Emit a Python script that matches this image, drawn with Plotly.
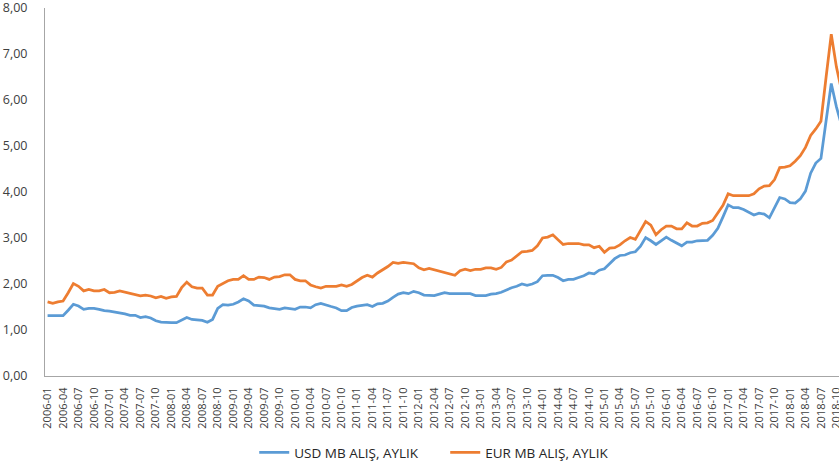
import plotly.graph_objects as go

# Monthly categories 2006-01 .. 2018-11
months = [f"{y}-{m:02d}" for y in range(2006, 2019) for m in range(1, 13)][:155]

usd = [
    1.31, 1.31, 1.31, 1.31, 1.43, 1.56, 1.52, 1.45, 1.47, 1.47, 1.45, 1.42,
    1.41, 1.39, 1.38, 1.35, 1.32, 1.32, 1.27, 1.29, 1.26, 1.20, 1.17, 1.16,
    1.16, 1.16, 1.21, 1.27, 1.23, 1.22, 1.21, 1.17, 1.23, 1.47, 1.55, 1.54,
    1.56, 1.61, 1.68, 1.63, 1.54, 1.53, 1.52, 1.48, 1.47, 1.45, 1.48, 1.47,
    1.45, 1.50, 1.50, 1.48, 1.55, 1.58, 1.54, 1.51, 1.48, 1.42, 1.42, 1.49,
    1.52, 1.54, 1.55, 1.51, 1.57, 1.58, 1.63, 1.71, 1.78, 1.81, 1.79, 1.84,
    1.81, 1.76, 1.75, 1.75, 1.78, 1.81, 1.79, 1.79, 1.79, 1.79, 1.79, 1.75,
    1.75, 1.75, 1.78, 1.79, 1.82, 1.87, 1.92, 1.95, 2.00, 1.97, 2.00, 2.05,
    2.18, 2.19, 2.19, 2.14, 2.07, 2.10, 2.10, 2.14, 2.18, 2.24, 2.22, 2.30,
    2.33, 2.44, 2.55, 2.62, 2.63, 2.68, 2.70, 2.82, 3.01, 2.94, 2.86, 2.94,
    3.02, 2.95, 2.89, 2.83, 2.91, 2.91, 2.94, 2.95, 2.95, 3.06, 3.21, 3.46,
    3.72, 3.66, 3.66, 3.62, 3.56, 3.50, 3.54, 3.52, 3.44, 3.67, 3.88, 3.85,
    3.77, 3.76, 3.85, 4.02, 4.41, 4.63, 4.73, 5.55, 6.36, 5.85, 5.45,
]

eur = [
    1.61, 1.58, 1.61, 1.63, 1.81, 2.01, 1.95, 1.85, 1.88, 1.85, 1.85, 1.88,
    1.81, 1.82, 1.85, 1.82, 1.79, 1.76, 1.74, 1.76, 1.74, 1.70, 1.73, 1.69,
    1.72, 1.73, 1.92, 2.04, 1.94, 1.91, 1.91, 1.76, 1.76, 1.95, 2.01, 2.07,
    2.10, 2.10, 2.18, 2.10, 2.10, 2.15, 2.14, 2.10, 2.15, 2.16, 2.20, 2.20,
    2.10, 2.07, 2.07, 1.98, 1.94, 1.91, 1.95, 1.95, 1.95, 1.98, 1.95, 1.99,
    2.07, 2.14, 2.19, 2.15, 2.24, 2.31, 2.38, 2.47, 2.45, 2.47, 2.45, 2.44,
    2.35, 2.31, 2.34, 2.31, 2.27, 2.24, 2.21, 2.19, 2.29, 2.32, 2.29, 2.32,
    2.32, 2.35, 2.35, 2.32, 2.36, 2.48, 2.52, 2.61, 2.70, 2.71, 2.73, 2.83,
    3.00, 3.02, 3.07, 2.96, 2.86, 2.88, 2.88, 2.88, 2.85, 2.85, 2.79, 2.82,
    2.69, 2.78, 2.79, 2.85, 2.94, 3.01, 2.97, 3.17, 3.36, 3.28, 3.07, 3.18,
    3.26, 3.26, 3.20, 3.20, 3.33, 3.26, 3.26, 3.32, 3.33, 3.38, 3.56, 3.71,
    3.96, 3.92, 3.92, 3.92, 3.92, 3.96, 4.07, 4.13, 4.14, 4.27, 4.53, 4.54,
    4.57, 4.67, 4.79, 4.97, 5.23, 5.37, 5.54, 6.50, 7.43, 6.72, 6.20,
]

tick_labels = months[:154:3]
y_ticks = [0, 1, 2, 3, 4, 5, 6, 7, 8]

series_names = ["USD MB ALIŞ, AYLIK", "EUR MB ALIŞ, AYLIK"]
colors = ["#5B9BD5", "#ED7D31"]

fig = go.Figure()
for name, vals, c in zip(series_names, [usd, eur], colors):
    fig.add_trace(go.Scatter(
        x=months[:len(vals)], y=vals, mode="lines", name=name,
        line=dict(color=c, width=2.75),
    ))

fig.update_layout(
    width=839, height=466,
    margin=dict(l=45, r=0, t=8, b=90, autoexpand=False),
    paper_bgcolor="white", plot_bgcolor="white",
    separators=",.",
    font=dict(family="Open Sans", size=12, color="#404040"),
    showlegend=True,
    legend=dict(orientation="h", x=0.2635, xanchor="left", y=-0.166, yanchor="top",
                font=dict(size=13.5, color="#262626"), itemwidth=30,
                entrywidth=146, entrywidthmode="pixels"),
)
fig.update_xaxes(
    type="category", categoryorder="array", categoryarray=months,
    range=[-0.5, 153.5], automargin=False,
    tickmode="array", tickvals=tick_labels, ticktext=tick_labels,
    tickangle=-90, tickfont=dict(size=11, color="#404040"),
    showgrid=False, zeroline=False, showline=True, linecolor="#A6A6A6", linewidth=1,
    ticks="", ticklabelstandoff=6, ticklabeloverflow="allow",
)
fig.update_yaxes(
    range=[0, 8], tickmode="array", tickvals=y_ticks, tickformat=".2f",
    automargin=False,
    tickfont=dict(size=12.5, color="#404040"),
    showgrid=False, zeroline=False, showline=True, linecolor="#A6A6A6", linewidth=1,
    ticks="", ticklabelstandoff=14, ticklabeloverflow="allow",
)

fig.write_html("out.html", config={"displayModeBar": False},
               post_script="document.body.style.margin='0px';")
